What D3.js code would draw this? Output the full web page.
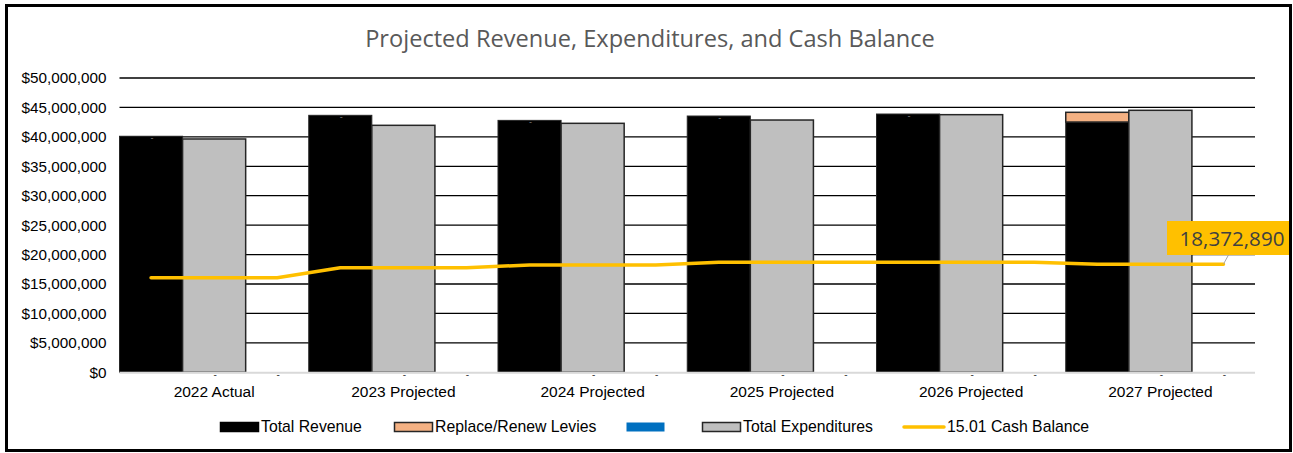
<!DOCTYPE html>
<html><head><meta charset="utf-8">
<script src="https://cdn.jsdelivr.net/npm/d3@7"></script>
<style>
html,body{margin:0;padding:0;background:#fff;}
svg{display:block;}
</style></head>
<body>
<svg id="c" width="1293" height="453"></svg>
<script>
const categories = ["2022 Actual","2023 Projected","2024 Projected","2025 Projected","2026 Projected","2027 Projected"];
const totalRevenue = [40100000, 43660000, 42800000, 43540000, 43880000, 42520000];
const replaceRenewLevies = [0, 0, 0, 0, 0, 1650000];
const blueSeries = [0, 0, 0, 0, 0, 0];
const totalExpenditures = [39640000, 41960000, 42300000, 42860000, 43770000, 44510000];
const cashBalance = [16070000, 17770000, 18230000, 18690000, 18690000, 18372890];
const yTicks = [0,5000000,10000000,15000000,20000000,25000000,30000000,35000000,40000000,45000000,50000000];
const title = "Projected Revenue, Expenditures, and Cash Balance";
const legendItems = [
  {name:"Total Revenue", type:"rect", fill:"#000000", stroke:"#000000"},
  {name:"Replace/Renew Levies", type:"rect", fill:"#F4B183", stroke:"#262626"},
  {name:"", type:"rect", fill:"#0070C0", stroke:"none"},
  {name:"Total Expenditures", type:"rect", fill:"#BFBFBF", stroke:"#262626"},
  {name:"15.01 Cash Balance", type:"line", fill:"#FFC000", stroke:"#FFC000"}
];

const svg = d3.select("#c");
const L = 119.5, R = 1255, T = 78, B = 372.3;

const x = d3.scaleBand().domain(categories).range([L, R]).padding(0);
const slot = d3.scaleBand().domain(["rev","exp","blue"]).range([0, x.bandwidth()]).padding(0);
const y = d3.scaleLinear().domain([0, 50000000]).range([B, T]);

// border
svg.append("rect").attr("x",6.5).attr("y",5.5).attr("width",1284).attr("height",445)
  .attr("fill","#fff").attr("stroke","#000").attr("stroke-width",3);

// title
const tt = svg.append("text").attr("x",650).attr("y",47).attr("text-anchor","middle")
  .attr("font-family","'Open Sans', sans-serif").attr("font-size",21).attr("fill","#595959").text(title);
const tw = tt.node().getComputedTextLength();
tt.attr("font-size", 21*570/tw);

// gridlines
svg.append("g").selectAll("line").data(yTicks.filter(d=>d>0)).join("line")
  .attr("x1",L).attr("x2",R).attr("y1",d=>y(d)).attr("y2",d=>y(d))
  .attr("stroke","#000").attr("stroke-width",1.3);

// y axis labels
const yAxis = d3.axisLeft(y).tickValues(yTicks).tickSize(0).tickPadding(13)
  .tickFormat(d=>"$"+d3.format(",")(d));
const ya = svg.append("g").attr("transform",`translate(${L},0)`).call(yAxis);
ya.select(".domain").remove();
ya.selectAll("text").attr("font-family","'Liberation Sans', Arial, sans-serif").attr("font-size",14).attr("fill","#000");
{
  const n = ya.selectAll("text").nodes().find(t=>t.textContent==="$50,000,000");
  const w = n.getComputedTextLength();
  ya.selectAll("text").attr("font-size", 14*85/w);
}

// bars
const gb = svg.append("g");
categories.forEach((c,i)=>{
  const x0 = x(c);
  gb.append("rect").attr("x",x0+slot("rev")).attr("width",slot.bandwidth())
    .attr("y",y(totalRevenue[i])).attr("height",y(0)-y(totalRevenue[i]))
    .attr("fill","#000").attr("stroke","#262626").attr("stroke-width",1);
  if (replaceRenewLevies[i] > 0) {
    const top = totalRevenue[i] + replaceRenewLevies[i];
    gb.append("rect").attr("x",x0+slot("rev")).attr("width",slot.bandwidth())
      .attr("y",y(top)).attr("height",y(totalRevenue[i])-y(top))
      .attr("fill","#F4B183").attr("stroke","#262626").attr("stroke-width",1.5);
  } else {
    gb.append("text").attr("x",x0+slot("rev")+slot.bandwidth()/2+1).attr("y",y(totalRevenue[i])+5)
      .attr("text-anchor","middle").attr("font-family","'Liberation Sans', Arial").attr("font-size",9)
      .attr("fill","#7f7f7f").text("-");
  }
  gb.append("rect").attr("x",x0+slot("exp")).attr("width",slot.bandwidth())
    .attr("y",y(totalExpenditures[i])).attr("height",y(0)-y(totalExpenditures[i]))
    .attr("fill","#BFBFBF").attr("stroke","#262626").attr("stroke-width",1.5);
  if (blueSeries[i] > 0) {
    gb.append("rect").attr("x",x0+slot("blue")).attr("width",slot.bandwidth())
      .attr("y",y(blueSeries[i])).attr("height",y(0)-y(blueSeries[i])).attr("fill","#0070C0");
  }
  ["exp","blue"].forEach(k=>{
    gb.append("text").attr("x",x0+slot(k)+slot.bandwidth()/2+1).attr("y",B+6)
      .attr("text-anchor","middle").attr("font-family","'Liberation Sans', Arial").attr("font-size",10)
      .attr("fill","#404040").text("-");
  });
});

// x axis line
svg.append("line").attr("x1",L).attr("x2",R).attr("y1",B+0.5).attr("y2",B+0.5)
  .attr("stroke","#d9d9d9").attr("stroke-width",2);

// x labels
const xAxis = d3.axisBottom(x).tickSize(0).tickPadding(12);
const xa = svg.append("g").attr("transform",`translate(0,${B+2})`).call(xAxis);
xa.select(".domain").remove();
xa.selectAll("text").attr("font-family","'Liberation Sans', Arial, sans-serif").attr("font-size",15.5).attr("fill","#000");

// cash balance line
const pts = [];
categories.forEach((c,i)=>{
  ["rev","exp","blue"].forEach(k=>pts.push([x(c)+slot(k)+slot.bandwidth()/2, y(cashBalance[i])]));
});
svg.append("path").attr("d", d3.line()(pts)).attr("fill","none")
  .attr("stroke","#FFC000").attr("stroke-width",3.5).attr("stroke-linecap","round").attr("stroke-linejoin","round");

// data label
const last = pts[pts.length-1];
svg.append("line").attr("x1",last[0]).attr("y1",last[1]).attr("x2",last[0]+5).attr("y2",255)
  .attr("stroke","#a6a6a6").attr("stroke-width",1);
svg.append("rect").attr("x",1167).attr("y",221).attr("width",123).attr("height",34).attr("fill","#FFC000");
const dl = svg.append("text").attr("x",1232).attr("y",246).attr("text-anchor","middle")
  .attr("font-family","'Open Sans', sans-serif").attr("font-size",20.5).attr("fill","#404040")
  .text(d3.format(",")(cashBalance[cashBalance.length-1]));
const dw = dl.node().getComputedTextLength();
dl.attr("font-size", 20.5*105/dw);

svg.append("line").attr("x1",1290.5).attr("x2",1290.5).attr("y1",5).attr("y2",451).attr("stroke","#000").attr("stroke-width",3);

// legend
const legX = [220, 394, 626, 702, 903];
const lg = svg.append("g");
const legTexts = [];
legendItems.forEach((d,i)=>{
  const x0 = legX[i];
  if (d.type==="rect") {
    lg.append("rect").attr("x",x0+0.5).attr("y",422.5).attr("width",38).attr("height",9)
      .attr("fill",d.fill).attr("stroke",d.stroke).attr("stroke-width",d.stroke==="none"?0:1.5);
  } else {
    lg.append("line").attr("x1",x0+1).attr("x2",x0+41).attr("y1",427).attr("y2",427)
      .attr("stroke",d.stroke).attr("stroke-width",3.5).attr("stroke-linecap","round");
  }
  if (d.name) {
    legTexts.push(lg.append("text").attr("x", x0 + (d.type==="rect"?41:44)).attr("y",432)
      .attr("font-family","'Liberation Sans', Arial, sans-serif").attr("font-size",15).attr("fill","#000").text(d.name));
  }
});
{
  const w = legTexts[0].node().getComputedTextLength();
  legTexts.forEach(t=>t.attr("font-size", 15*101/w));
}
</script>
</body></html>
